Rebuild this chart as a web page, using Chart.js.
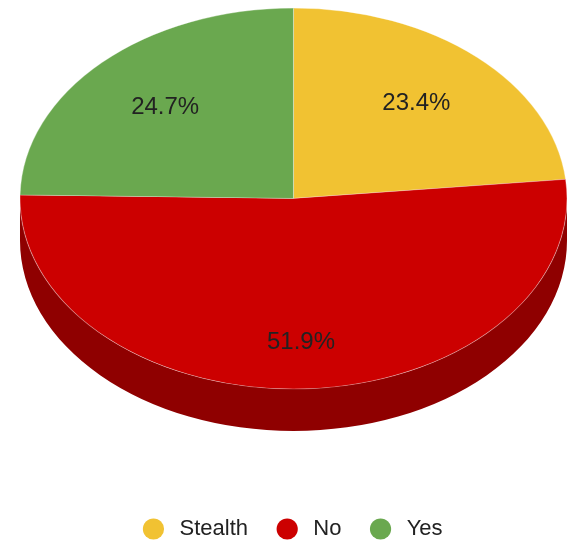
<!DOCTYPE html>
<html>
<head>
<meta charset="utf-8">
<script src="https://cdn.jsdelivr.net/npm/chart.js@4.4.1/dist/chart.umd.min.js"></script>
<style>
  html, body { margin: 0; padding: 0; background: #fff; }
  #wrap { width: 569px; height: 540px; }
</style>
</head>
<body>
<div id="wrap"><canvas id="pieChart"></canvas></div>
<script>
const labels = ['Stealth', 'No', 'Yes'];
const shares = [23.4, 51.9, 24.7];
const sliceColors = ['#f1c232', '#cc0000', '#6aa84f'];

// 3d look
const TILT = 0.6965;   // ellipse height / width
const DEPTH = 42;      // px of the pie's side
const LABEL_RADIUS = 0.67;
const FONT = '"Liberation Sans", Arial, sans-serif';

const darken = (hex, f) => {
    const n = parseInt(hex.slice(1), 16);
    const r = Math.round(((n >> 16) & 255) * f);
    const g = Math.round(((n >> 8) & 255) * f);
    const b = Math.round((n & 255) * f);
    return `rgb(${r}, ${g}, ${b})`;
};

// maps the round pie that chart.js lays out onto a flat ellipse
const getEllipse = (chart, arc) => {
    const { left, right, top } = chart.chartArea;
    const rx = (right - left) / 2;
    const ry = rx * TILT;
    return { cx: (left + right) / 2, cy: top + ry, rx, ry, r0: arc.outerRadius, ax: arc.x, ay: arc.y };
};

const applyEllipse = (ctx, e) => {
    ctx.translate(e.cx, e.cy);
    ctx.scale(e.rx / e.r0, e.ry / e.r0);
    ctx.translate(-e.ax, -e.ay);
};

const tiltPlugin = {
    id: 'tilt3d',
    beforeDatasetsDraw(chart) {
        const ctx = chart.ctx;
        const arcs = chart.getDatasetMeta(0).data;
        if (!arcs.length) return;
        const e = getEllipse(chart, arcs[0]);
        ctx.save();
        applyEllipse(ctx, e);
        const d = DEPTH * e.r0 / e.ry;
        arcs.forEach((arc, i) => {
            // only the front half of the side can be seen
            const a = Math.max(arc.startAngle, 0);
            const b = Math.min(arc.endAngle, Math.PI);
            if (b <= a) return;
            ctx.beginPath();
            ctx.arc(arc.x, arc.y, arc.outerRadius, a, b);
            ctx.arc(arc.x, arc.y + d, arc.outerRadius, b, a, true);
            ctx.closePath();
            ctx.fillStyle = darken(sliceColors[i], 0.7);
            ctx.fill();
        });
    },
    afterDatasetsDraw(chart) {
        const ctx = chart.ctx;
        const arcs = chart.getDatasetMeta(0).data;
        if (!arcs.length) return;
        ctx.restore();
        const e = getEllipse(chart, arcs[0]);
        ctx.save();
        ctx.font = `24px ${FONT}`;
        ctx.fillStyle = '#222';
        ctx.textAlign = 'center';
        ctx.textBaseline = 'middle';
        arcs.forEach((arc, i) => {
            const mid = (arc.startAngle + arc.endAngle) / 2;
            const x = e.cx + Math.cos(mid) * LABEL_RADIUS * e.rx;
            const y = e.cy + Math.sin(mid) * LABEL_RADIUS * e.ry + Math.max(0, Math.sin(mid)) * DEPTH * 0.4;
            ctx.fillText(shares[i].toFixed(1) + '%', x, y);
        });
        ctx.restore();
    }
};

new Chart(document.getElementById('pieChart'), {
    type: 'pie',
    data: {
        labels: labels,
        datasets: [{
            data: shares,
            backgroundColor: sliceColors,
            borderColor: 'rgba(255, 255, 255, 0.35)',
            borderWidth: 1,
            clip: false
        }]
    },
    options: {
        responsive: true,
        maintainAspectRatio: false,
        animation: false,
        events: [],
        layout: { padding: { left: 20, right: 2, top: 8, bottom: -10 } },
        plugins: {
            tooltip: { enabled: false },
            legend: {
                position: 'bottom',
                labels: {
                    usePointStyle: true,
                    pointStyle: 'circle',
                    boxWidth: 18,
                    boxHeight: 15,
                    padding: 2,
                    color: '#222',
                    font: { family: FONT, size: 22 },
                    generateLabels: (chart) => {
                        const items = Chart.overrides.pie.plugins.legend.labels.generateLabels(chart);
                        items.forEach((it, i) => {
                            it.lineWidth = 0;
                            it.text = ' ' + it.text + (i < items.length - 1 ? '\u2003 ' : '');
                        });
                        return items;
                    }
                }
            }
        }
    },
    plugins: [tiltPlugin]
});
</script>
</body>
</html>
